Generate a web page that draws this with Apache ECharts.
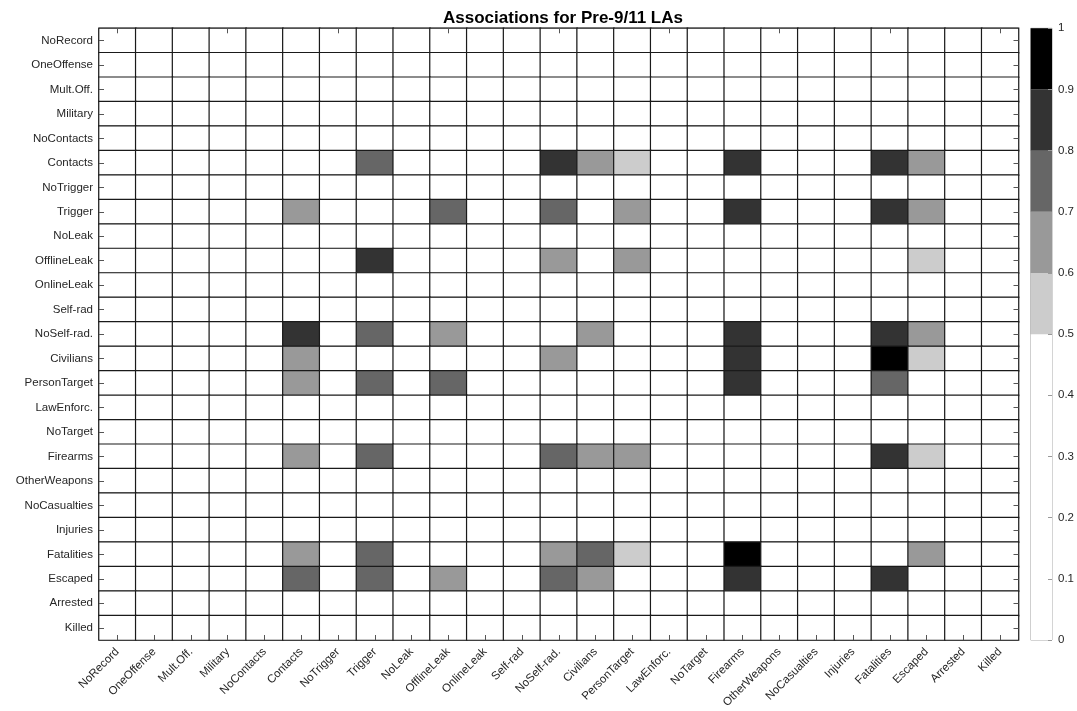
<!DOCTYPE html>
<html>
<head>
<meta charset="utf-8">
<script src="https://cdn.jsdelivr.net/npm/echarts@6/dist/echarts.min.js"></script>
<style>html,body{margin:0;padding:0;background:#fff;}#c{width:1077px;height:711px;}</style>
</head>
<body>
<div id="c"></div>
<script>
const categories = ["NoRecord","OneOffense","Mult.Off.","Military","NoContacts","Contacts","NoTrigger","Trigger","NoLeak","OfflineLeak","OnlineLeak","Self-rad","NoSelf-rad.","Civilians","PersonTarget","LawEnforc.","NoTarget","Firearms","OtherWeapons","NoCasualties","Injuries","Fatalities","Escaped","Arrested","Killed"];

// association values per row (row = y category), columns in category order
const values = [
/* NoRecord     */ [0,0,0,0,0,0,0,0,0,0,0,0,0,0,0,0,0,0,0,0,0,0,0,0,0],
/* OneOffense   */ [0,0,0,0,0,0,0,0,0,0,0,0,0,0,0,0,0,0,0,0,0,0,0,0,0],
/* Mult.Off.    */ [0,0,0,0,0,0,0,0,0,0,0,0,0,0,0,0,0,0,0,0,0,0,0,0,0],
/* Military     */ [0,0,0,0,0,0,0,0,0,0,0,0,0,0,0,0,0,0,0,0,0,0,0,0,0],
/* NoContacts   */ [0,0,0,0,0,0,0,0,0,0,0,0,0,0,0,0,0,0,0,0,0,0,0,0,0],
/* Contacts     */ [0,0,0,0,0,0,0,0.75,0,0,0,0,0.85,0.65,0.55,0,0,0.85,0,0,0,0.85,0.65,0,0],
/* NoTrigger    */ [0,0,0,0,0,0,0,0,0,0,0,0,0,0,0,0,0,0,0,0,0,0,0,0,0],
/* Trigger      */ [0,0,0,0,0,0.65,0,0,0,0.75,0,0,0.75,0,0.65,0,0,0.85,0,0,0,0.85,0.65,0,0],
/* NoLeak       */ [0,0,0,0,0,0,0,0,0,0,0,0,0,0,0,0,0,0,0,0,0,0,0,0,0],
/* OfflineLeak  */ [0,0,0,0,0,0,0,0.85,0,0,0,0,0.65,0,0.65,0,0,0,0,0,0,0,0.55,0,0],
/* OnlineLeak   */ [0,0,0,0,0,0,0,0,0,0,0,0,0,0,0,0,0,0,0,0,0,0,0,0,0],
/* Self-rad     */ [0,0,0,0,0,0,0,0,0,0,0,0,0,0,0,0,0,0,0,0,0,0,0,0,0],
/* NoSelf-rad.  */ [0,0,0,0,0,0.85,0,0.75,0,0.65,0,0,0,0.65,0,0,0,0.85,0,0,0,0.85,0.65,0,0],
/* Civilians    */ [0,0,0,0,0,0.65,0,0,0,0,0,0,0.65,0,0,0,0,0.85,0,0,0,0.95,0.55,0,0],
/* PersonTarget */ [0,0,0,0,0,0.65,0,0.75,0,0.75,0,0,0,0,0,0,0,0.85,0,0,0,0.75,0,0,0],
/* LawEnforc.   */ [0,0,0,0,0,0,0,0,0,0,0,0,0,0,0,0,0,0,0,0,0,0,0,0,0],
/* NoTarget     */ [0,0,0,0,0,0,0,0,0,0,0,0,0,0,0,0,0,0,0,0,0,0,0,0,0],
/* Firearms     */ [0,0,0,0,0,0.65,0,0.75,0,0,0,0,0.75,0.65,0.65,0,0,0,0,0,0,0.85,0.55,0,0],
/* OtherWeapons */ [0,0,0,0,0,0,0,0,0,0,0,0,0,0,0,0,0,0,0,0,0,0,0,0,0],
/* NoCasualties */ [0,0,0,0,0,0,0,0,0,0,0,0,0,0,0,0,0,0,0,0,0,0,0,0,0],
/* Injuries     */ [0,0,0,0,0,0,0,0,0,0,0,0,0,0,0,0,0,0,0,0,0,0,0,0,0],
/* Fatalities   */ [0,0,0,0,0,0.65,0,0.75,0,0,0,0,0.65,0.75,0.55,0,0,0.95,0,0,0,0,0.65,0,0],
/* Escaped      */ [0,0,0,0,0,0.75,0,0.75,0,0.65,0,0,0.75,0.65,0,0,0,0.85,0,0,0,0.85,0,0,0],
/* Arrested     */ [0,0,0,0,0,0,0,0,0,0,0,0,0,0,0,0,0,0,0,0,0,0,0,0,0],
/* Killed       */ [0,0,0,0,0,0,0,0,0,0,0,0,0,0,0,0,0,0,0,0,0,0,0,0,0]
];

const bandEdges = [0, 0.5, 0.6, 0.7, 0.8, 0.9, 1.0];
const bandColors = ['#ffffff', '#cccccc', '#999999', '#666666', '#333333', '#000000'];
const colorbarTicks = ['0','0.1','0.2','0.3','0.4','0.5','0.6','0.7','0.8','0.9','1'];

const heatData = [];
values.forEach((row, yi) => row.forEach((v, xi) => heatData.push([xi, yi, v])));

const pieces = bandColors.map((c, i) => (i === bandColors.length - 1)
  ? { gte: bandEdges[i], lte: bandEdges[i + 1], color: c }
  : { gte: bandEdges[i], lt: bandEdges[i + 1], color: c });

const FONT = 'Liberation Sans';
const labelColor = '#262626';

const cbSeries = bandColors.map((c, i) => ({
  type: 'bar', stack: 'cb', xAxisIndex: 2, yAxisIndex: 2,
  barWidth: '100%', silent: true,
  itemStyle: { color: c },
  data: [bandEdges[i + 1] - bandEdges[i]]
}));

const tickStyle = { show: true, inside: true, length: 5, alignWithLabel: true, lineStyle: { color: '#555', width: 1 } };

const option = {
  animation: false,
  backgroundColor: '#fff',
  title: {
    text: 'Associations for Pre-9/11 LAs',
    left: 558, top: 5, textAlign: 'center',
    textStyle: { fontFamily: FONT, fontWeight: 'bold', fontSize: 17, color: '#000' }
  },
  grid: [
    { left: 99, top: 28.3, width: 919.5, height: 611.7, show: true, borderColor: '#333', borderWidth: 1, backgroundColor: '#fff' },
    { left: 1030.7, top: 28.3, width: 26, height: 611.7, show: true, borderColor: '#aaa', borderWidth: 1 }
  ],
  visualMap: { show: false, type: 'piecewise', seriesIndex: 0, pieces: pieces, dimension: 2 },
  xAxis: [
    { type: 'category', gridIndex: 0, data: categories, position: 'bottom', z: 10,
      axisLine: { show: false }, axisTick: tickStyle,
      axisLabel: { interval: 0, rotate: 45, fontFamily: FONT, fontSize: 11.5, color: labelColor, margin: 10 },
      splitLine: { show: false } },
    { type: 'category', gridIndex: 0, data: categories, position: 'top', z: 10,
      axisLine: { show: false }, axisTick: tickStyle, axisLabel: { show: false } },
    { type: 'category', gridIndex: 1, data: ['cb'], show: true,
      axisLine: { show: false }, axisTick: { show: false }, axisLabel: { show: false } }
  ],
  yAxis: [
    { type: 'category', gridIndex: 0, data: categories, inverse: true, position: 'left', z: 10,
      axisLine: { show: false }, axisTick: tickStyle,
      axisLabel: { interval: 0, fontFamily: FONT, fontSize: 11.5, color: labelColor, margin: 6 } },
    { type: 'category', gridIndex: 0, data: categories, inverse: true, position: 'right', z: 10,
      axisLine: { show: false }, axisTick: tickStyle, axisLabel: { show: false } },
    { type: 'value', gridIndex: 1, min: 0, max: 1, interval: 0.1, position: 'right', z: 10,
      axisLine: { show: false },
      axisTick: { show: true, inside: true, length: 4, lineStyle: { color: '#999' } },
      splitLine: { show: false },
      axisLabel: { fontFamily: FONT, fontSize: 11.5, color: labelColor, margin: 6,
        formatter: (v) => colorbarTicks[Math.round(v * 10)] } }
  ],
  series: [
    { type: 'heatmap', xAxisIndex: 0, yAxisIndex: 0, data: heatData, z: 2,
      itemStyle: { borderColor: '#1a1a1a', borderWidth: 1.2 }, emphasis: { disabled: true } }
  ].concat(cbSeries)
};

const chart = echarts.init(document.getElementById('c'));
chart.setOption(option);
</script>
</body>
</html>
